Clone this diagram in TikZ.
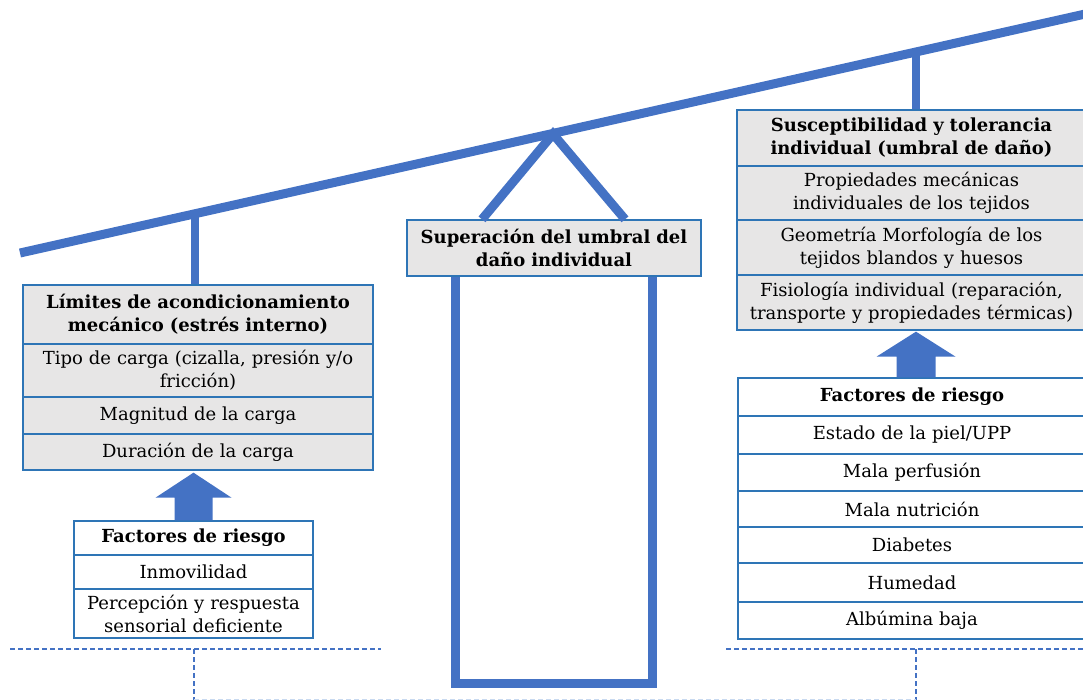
\documentclass[tikz,border=0pt]{standalone}
\usepackage{fontspec}
\setmainfont{DejaVu Serif}
\usetikzlibrary{calc}
\definecolor{beamblue}{HTML}{4472C4}
\definecolor{edgeblue}{HTML}{2E75B6}
\definecolor{cellgray}{HTML}{E7E6E6}
\definecolor{faintblue}{HTML}{C9DAF0}
\tikzset{
  cell/.style={draw=edgeblue, line width=1.3pt, fill=cellgray, align=center,
    inner sep=0pt, font=\fontsize{18}{23}\selectfont},
  wcell/.style={cell, fill=white},
  beamline/.style={draw=beamblue, line width=9pt},
  stem/.style={draw=beamblue, line width=8pt},
  blockarrow/.style={fill=beamblue},
  guide/.style={draw=beamblue, line width=1.1pt, dash pattern=on 5pt off 3pt},
  faintguide/.style={draw=faintblue, line width=1pt, dash pattern=on 5pt off 3pt},
}
\begin{document}
\begin{tikzpicture}[x=1pt,y=-1pt]
\useasboundingbox (0,0) rectangle (1083,699);

% lever beam and its attachment points
\coordinate (beamL) at (20,253);
\coordinate (beamR) at (1095,11.8);
\coordinate (pL) at (195,213.7);
\coordinate (pivot) at (553,134);
\coordinate (pR) at (916,51.8);
\draw[beamline] (beamL) -- (beamR);

% left column: mechanical conditioning limits
\node[cell, minimum width=350pt, minimum height=59pt, text width=344pt] (lh) at (198,314.5)
  {\bfseries Límites de acondicionamiento\\\bfseries mecánico (estrés interno)};
\node[cell, minimum width=350pt, minimum height=53pt, text width=344pt] (l1) at (198,370.5)
  {Tipo de carga (cizalla, presión y/o\\fricción)};
\node[cell, minimum width=350pt, minimum height=37pt, text width=344pt] (l2) at (198,415.5)
  {Magnitud de la carga};
\node[cell, minimum width=350pt, minimum height=36pt, text width=344pt] (l3) at (198,452)
  {Duración de la carga};

% left risk factors
\node[wcell, minimum width=239pt, minimum height=34pt, text width=234pt] (fh) at (193.5,538)
  {\bfseries Factores de riesgo};
\node[wcell, minimum width=239pt, minimum height=34pt, text width=234pt] (f1) at (193.5,572)
  {Inmovilidad};
\node[wcell, minimum width=239pt, minimum height=49pt, text width=234pt] (f2) at (193.5,613.5)
  {Percepción y respuesta\\sensorial deficiente};

% centre: threshold exceeded
\node[cell, minimum width=294pt, minimum height=56pt, text width=290pt] (mh) at (554,248)
  {\bfseries Superación del umbral del\\\bfseries daño individual};

% right column: individual susceptibility
\node[cell, minimum width=349pt, minimum height=56pt, text width=344pt] (rh) at (911.5,138)
  {\bfseries Susceptibilidad y tolerancia\\\bfseries individual (umbral de daño)};
\node[cell, minimum width=349pt, minimum height=54pt, text width=344pt] (r1) at (911.5,193)
  {Propiedades mecánicas\\individuales de los tejidos};
\node[cell, minimum width=349pt, minimum height=55pt, text width=344pt] (r2) at (911.5,247.5)
  {Geometría Morfología de los\\tejidos blandos y huesos};
\node[cell, minimum width=349pt, minimum height=55pt, text width=344pt] (r3) at (911.5,302.5)
  {Fisiología individual (reparación,\\transporte y propiedades térmicas)};

% right risk factors
\node[wcell, minimum width=348pt, minimum height=38pt, text width=344pt] (g0) at (912,397)
  {\bfseries Factores de riesgo};
\node[wcell, minimum width=348pt, minimum height=38pt, text width=344pt] (g1) at (912,435)
  {Estado de la piel/UPP};
\node[wcell, minimum width=348pt, minimum height=37pt, text width=344pt] (g2) at (912,472.5)
  {Mala perfusión};
\node[wcell, minimum width=348pt, minimum height=36pt, text width=344pt] (g3) at (912,509)
  {Mala nutrición};
\node[wcell, minimum width=348pt, minimum height=36pt, text width=344pt] (g4) at (912,545)
  {Diabetes};
\node[wcell, minimum width=348pt, minimum height=39pt, text width=344pt] (g5) at (912,582.5)
  {Humedad};
\node[wcell, minimum width=348pt, minimum height=37pt, text width=344pt] (g6) at (912,620.5)
  {Albúmina baja};

% stems hanging from the beam
\draw[stem] (pL) -- (pL |- lh.north);
\draw[stem] (pR) -- (pR |- rh.north);
\draw[beamline] ([xshift=-72pt]mh.north) -- (pivot) -- ([xshift=71pt]mh.north);

% open frame below the centre box
\coordinate (uL) at (455,683);
\coordinate (uR) at (652,683);
\draw[beamline, line join=miter] (uL |- mh.south) -- (uL) -- (uR) -- (uR |- mh.south);

% block arrows from risk factors up to their groups
\coordinate (tipL) at ($(fh.north |- l3.south)+(0,2)$);
\fill[blockarrow] (tipL) -- ([shift={(38,25)}]tipL) -- ([shift={(19,25)}]tipL)
  -- ([xshift=19pt]fh.north) -- ([xshift=-19pt]fh.north)
  -- ([shift={(-19,25)}]tipL) -- ([shift={(-38,25)}]tipL) -- cycle;
\coordinate (tipR) at ($(pR |- r3.south)+(0,1)$);
\fill[blockarrow] (tipR) -- ([shift={(39.5,25)}]tipR) -- ([shift={(19.5,25)}]tipR)
  -- ([shift={(19.5,0)}]tipR |- g0.north) -- ([shift={(-19.5,0)}]tipR |- g0.north)
  -- ([shift={(-19.5,25)}]tipR) -- ([shift={(-39.5,25)}]tipR) -- cycle;

% dashed guide lines at the foot
\coordinate (dL1) at (10,649);
\coordinate (dL2) at (381,649);
\coordinate (dLv) at (194,649);
\coordinate (dR1) at (726,649);
\coordinate (dR2) at (1090,649);
\coordinate (dRv) at (916,649);
\draw[guide] (dL1) -- (dL2);
\draw[guide] (dR1) -- (dR2);
\draw[guide] (dLv) -- (194,702);
\draw[guide] (dRv) -- (916,702);
\draw[faintguide] (194,699) -- (916,699);
\end{tikzpicture}
\end{document}
